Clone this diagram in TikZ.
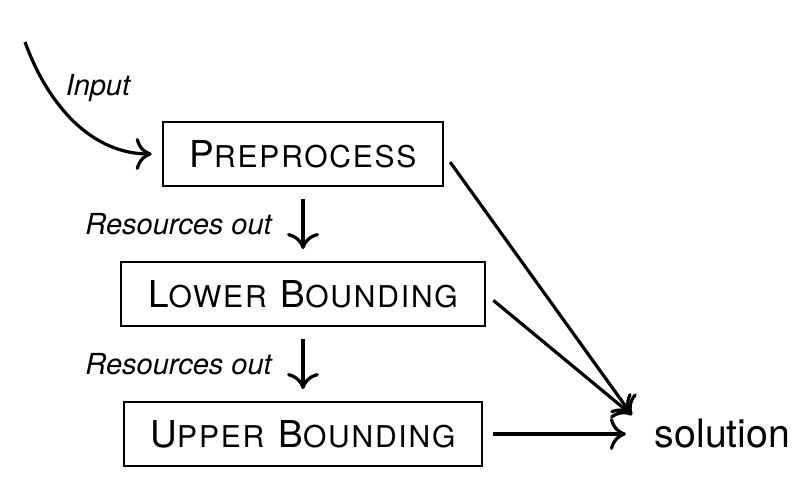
\documentclass[tikz,border=0pt]{standalone}
\usepackage{fontspec}
\setmainfont{TeX Gyre Heros}
\usetikzlibrary{arrows.meta}

% caps with spaced small letters
\newcommand\capsc[2]{{\fontsize{18.5}{20}\selectfont #1}{\fontsize{15}{16}\selectfont\addfontfeature{LetterSpace=6}#2}}

\begin{document}
\begin{tikzpicture}[x=0.5pt, y=-0.5pt, node distance={70pt},
  stage/.style = {draw, line width=1pt, minimum height=32pt, inner xsep=13.4pt, font=\fontsize{18.5}{20}\selectfont},
  flow/.style = {line width=1.6pt, -{Computer Modern Rightarrow[length=8pt, width=16pt]}},
  note/.style = {font=\fontsize{14.5}{16}\selectfont\itshape}]
\useasboundingbox (0,0) rectangle (800,487);

\node[stage] (pre) at (303,154) {\capsc{P}{REPROCESS}};
\node[stage] (low) [below of=pre] {\capsc{L}{OWER}\hspace{7pt}\capsc{B}{OUNDING}};
\node[stage] (upp) [below of=low] {\capsc{U}{PPER}\hspace{7pt}\capsc{B}{OUNDING}};
\node (sol) [right of=upp, node distance=209.75pt, font=\fontsize{19.6}{22}\selectfont] {solution};

\coordinate (src) at (25,42);
\coordinate (hub) at ([shift={(-8pt,9.5pt)}]sol.west);

\draw[flow, shorten >=5pt] (src) to[out=-70, in=180] node[note, pos=0.35, above right, yshift=-4pt] {Input} (pre.west);
\draw[flow, shorten <=6pt, shorten >=6pt] (pre) -- node[note, left=11.5pt] {Resources out} (low);
\draw[flow, shorten <=6pt, shorten >=6pt] (low) -- node[note, left=11.5pt] {Resources out} (upp);

\draw[flow, shorten <=5pt] (pre.east) -- (hub);
\draw[flow, shorten <=5pt] (low.east) -- (hub);
\draw[flow, shorten <=5pt] (upp.east) -- ([xshift=-11pt]sol.west);

\end{tikzpicture}
\end{document}
